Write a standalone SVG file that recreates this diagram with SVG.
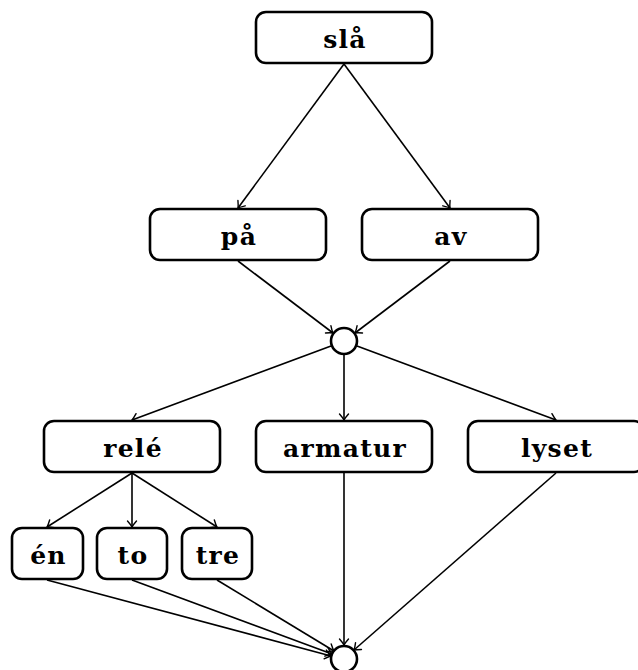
<svg xmlns="http://www.w3.org/2000/svg" width="638" height="670" viewBox="0 0 638 670">
  <defs>
    <marker id="arr" viewBox="-8 -6 10 12" markerWidth="10" markerHeight="12" refX="0" refY="0" orient="auto" markerUnits="userSpaceOnUse">
      <path d="M -6,-4.5 Q -2,-1 0,0 Q -2,1 -6,4.5" fill="none" stroke="#000" stroke-width="1.4" stroke-linecap="round"/>
    </marker>
    <style>
      .box { fill: #fff; stroke: #000; stroke-width: 2.6; }
      .dot { fill: #fff; stroke: #000; stroke-width: 2.6; }
      .lbl { font-family: "DejaVu Serif", "Liberation Serif", serif; font-weight: bold; font-size: 25px; letter-spacing: 1.3px; text-anchor: middle; fill: #000; }
      .edge { fill: none; stroke: #000; stroke-width: 1.6; marker-end: url(#arr); }
    </style>
  </defs>
  <rect width="638" height="670" fill="#fff"/>

  <g id="connectors">
    <line class="edge" x1="344" y1="64" x2="238" y2="208"/>
    <line class="edge" x1="344" y1="64" x2="450" y2="208"/>
    <line class="edge" x1="238" y1="261" x2="333" y2="333"/>
    <line class="edge" x1="450" y1="261" x2="355" y2="333"/>
    <line class="edge" x1="331" y1="346" x2="132" y2="420"/>
    <line class="edge" x1="344" y1="354" x2="344" y2="420"/>
    <line class="edge" x1="357" y1="346" x2="556" y2="420"/>
    <line class="edge" x1="132" y1="473" x2="47" y2="527"/>
    <line class="edge" x1="132" y1="473" x2="132" y2="527"/>
    <line class="edge" x1="132" y1="473" x2="217" y2="527"/>
    <line class="edge" x1="47" y1="580" x2="331" y2="656"/>
    <line class="edge" x1="132" y1="580" x2="332" y2="654"/>
    <line class="edge" x1="217" y1="580" x2="334" y2="651"/>
    <line class="edge" x1="344" y1="473" x2="344" y2="645"/>
    <line class="edge" x1="556" y1="473" x2="354" y2="650"/>
  </g>

  <g id="n-sla"><rect class="box" x="256" y="12" width="176" height="51" rx="10"/><text class="lbl" x="345" y="48">slå</text></g>
  <g id="n-pa"><rect class="box" x="150" y="209" width="176" height="51" rx="10"/><text class="lbl" x="239" y="245">på</text></g>
  <g id="n-av"><rect class="box" x="362" y="209" width="176" height="51" rx="10"/><text class="lbl" x="451" y="245">av</text></g>
  <g id="n-join1"><circle class="dot" cx="344" cy="341" r="13"/></g>
  <g id="n-rele"><rect class="box" x="44" y="421" width="176" height="51" rx="10"/><text class="lbl" x="133" y="457">relé</text></g>
  <g id="n-armatur"><rect class="box" x="256" y="421" width="176" height="51" rx="10"/><text class="lbl" x="345" y="457">armatur</text></g>
  <g id="n-lyset"><rect class="box" x="468" y="421" width="176" height="51" rx="10"/><text class="lbl" x="557" y="457">lyset</text></g>
  <g id="n-en"><rect class="box" x="12" y="528" width="71" height="51" rx="10"/><text class="lbl" x="48.5" y="564">én</text></g>
  <g id="n-to"><rect class="box" x="97" y="528" width="70" height="51" rx="10"/><text class="lbl" x="133" y="564">to</text></g>
  <g id="n-tre"><rect class="box" x="182" y="528" width="70" height="51" rx="10"/><text class="lbl" x="218" y="564">tre</text></g>
  <g id="n-join2"><circle class="dot" cx="344" cy="659" r="13"/></g>
</svg>
